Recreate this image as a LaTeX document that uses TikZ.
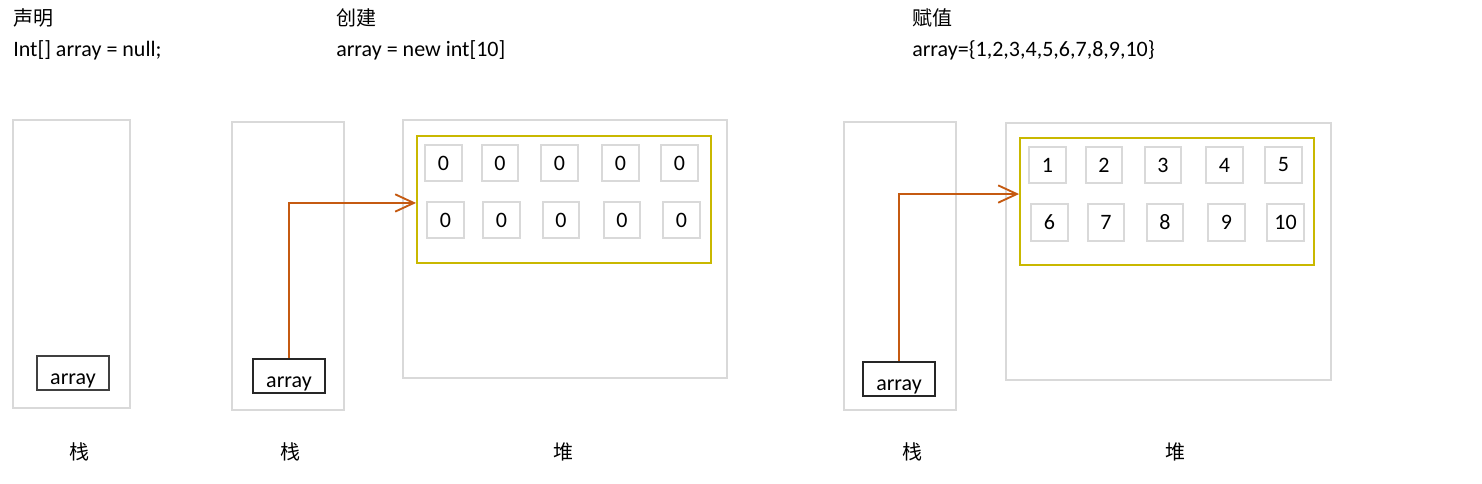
\documentclass[tikz,border=0pt]{standalone}
\usepackage{fontspec}
\setmainfont{Carlito}
\newfontfamily\cjk{Noto Sans CJK SC}
\usetikzlibrary{arrows.meta,positioning}
\definecolor{boxgray}{HTML}{D9D9D9}
\definecolor{heapyel}{HTML}{C9B800}
\definecolor{refbrown}{HTML}{C55A11}

\begin{document}
\begin{tikzpicture}[x=0.75pt, y=-0.75pt, font=\fontsize{16.5pt}{19pt}\selectfont,
  mem/.style={draw=boxgray, line width=1.6pt},
  title/.style={anchor=west, inner sep=0pt},
  ref/.style={draw=black!85, line width=1.4pt, minimum width=54pt, minimum height=26pt, inner sep=0pt, text height=20pt, text depth=2pt},
  heapbox/.style={draw=heapyel, line width=1.4pt},
  cell/.style={draw=boxgray, line width=1.5pt, minimum size=27.5pt, inner sep=0pt},
  cjktext/.style={font=\cjk\fontsize{15pt}{18pt}\selectfont},
  arr/.style={-{Straight Barb[length=14pt,width=13pt]}, draw=refbrown, line width=1.4pt}]
\useasboundingbox (0,0) rectangle (1482,484);
% titles
\node[title, cjktext] (t1)  at (13,18)  {声明};
\node[title]          (c1)  at (13,50)  {Int[] array = null;};
\node[title, cjktext] (t2)  at (336,18) {创建};
\node[title]          (c2)  at (336,50) {array = new int[10]};
\node[title, cjktext] (t3)  at (912,18) {赋值};
\node[title]          (c3)  at (912,50) {array=\{1,2,3,4,5,6,7,8,9,10\}};
% declaration
\draw[mem] (13,120) rectangle (130,408);
\node[ref, draw=black!75] (a1) at (73,373) {array};
\node[cjktext] (s1) at (79,452) {栈};
% creation
\draw[mem] (232,122) rectangle (344,410);
\node[ref] (a2) at (289,376) {array};
\node[cjktext] (s2) at (290,452) {栈};
\draw[mem] (403,120) rectangle (727,378);
\node[heapbox, minimum width=220.5pt, minimum height=95pt] (hb1) at (564,199.5) {};
\node[cell] (z1)  at (443.5,163) {0};
\node[cell] (z2)  at (500,163)   {0};
\node[cell] (z3)  at (559.5,163) {0};
\node[cell] (z4)  at (620.5,163) {0};
\node[cell] (z5)  at (679.5,163) {0};
\node[cell] (z6)  at (445.5,220) {0};
\node[cell] (z7)  at (501.5,220) {0};
\node[cell] (z8)  at (561,220)   {0};
\node[cell] (z9)  at (622,220)   {0};
\node[cell] (z10) at (681.5,220) {0};
\node[cjktext] (h1) at (563,452) {堆};
\draw[arr] (a2.north) |- ([yshift=-2.6pt]hb1.west);
% assignment
\draw[mem] (844,122) rectangle (956,410);
\node[ref] (a3) at (899,379) {array};
\node[cjktext] (s3) at (912,452) {栈};
\draw[mem] (1006,123) rectangle (1331,380);
\node[heapbox, minimum width=220.5pt, minimum height=95pt] (hb2) at (1167,201.5) {};
\node[cell] (v1)  at (1047.5,165) {1};
\node[cell] (v2)  at (1104,165)   {2};
\node[cell] (v3)  at (1163,165)   {3};
\node[cell] (v4)  at (1224.5,165) {4};
\node[cell] (v5)  at (1283.5,165) {5};
\node[cell] (v6)  at (1049.5,222.5) {6};
\node[cell] (v7)  at (1106,222.5)   {7};
\node[cell] (v8)  at (1165,222.5)   {8};
\node[cell] (v9)  at (1226.5,222.5) {9};
\node[cell] (v10) at (1285.5,222.5) {10};
\node[cjktext] (h2) at (1175,452) {堆};
\draw[arr] (a3.north) |- ([yshift=5.6pt]hb2.west);
\end{tikzpicture}
\end{document}
